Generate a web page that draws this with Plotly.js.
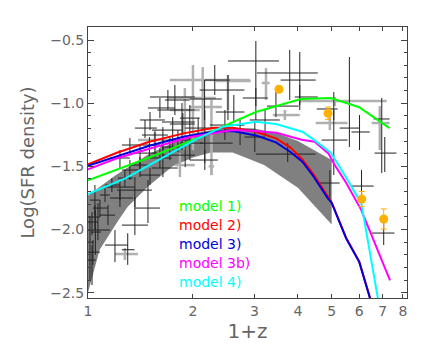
<!DOCTYPE html>
<html>
<head>
<meta charset="utf-8">
<script src="https://cdn.plot.ly/plotly-3.0.1.min.js"></script>
<style>html,body{margin:0;padding:0;background:#fff;}#chart{width:432px;height:354px;}</style>
</head>
<body>
<div id="chart"></div>
<script>
// ---- Gray band (uncertainty region) ----
const bandLowX  = [1.0, 1.08, 1.22, 1.3, 1.5, 1.75, 2.0, 2.25, 2.6, 3.2, 4.0, 5.0];
const bandLowY  = [-2.50, -2.16, -1.93, -1.82, -1.65, -1.50, -1.43, -1.39, -1.39, -1.49, -1.67, -1.96];
const bandHighX = [1.0, 1.2, 1.5, 2.0, 2.5, 3.0, 3.5, 4.0, 4.5, 5.0];
const bandHighY = [-1.73, -1.57, -1.40, -1.24, -1.19, -1.20, -1.24, -1.30, -1.38, -1.45];

// ---- Model curves ----
const m1X = [1.0, 1.5, 2.0, 2.33, 3.03, 4.08, 4.97, 5.98, 7.33];
const m1Y = [-1.61, -1.43, -1.29, -1.21, -1.07, -0.967, -0.959, -1.03, -1.197];
const m2X = [1.0, 1.21, 1.5, 1.88, 2.3, 2.6, 3.03, 3.46, 3.8, 4.12, 4.44, 4.87, 5.0, 5.5, 6.0, 6.5];
const m2Y = [-1.483, -1.392, -1.305, -1.239, -1.194, -1.195, -1.226, -1.278, -1.35, -1.445, -1.565, -1.745, -1.785, -2.065, -2.255, -2.58];
const m3X = [1.0, 1.21, 1.5, 1.88, 2.3, 2.6, 3.03, 3.46, 3.8, 4.12, 4.44, 4.87, 5.0, 5.5, 6.0, 6.5];
const m3Y = [-1.495, -1.418, -1.337, -1.265, -1.226, -1.22, -1.255, -1.31, -1.384, -1.463, -1.582, -1.751, -1.79, -2.07, -2.258, -2.58];
const m3bX = [1.0, 1.2, 1.5, 1.95, 2.6, 3.0, 3.47, 4.1, 4.47, 4.9, 5.1, 5.5, 6.08, 6.5, 7.35];
const m3bY = [-1.524, -1.44, -1.36, -1.27, -1.213, -1.22, -1.234, -1.29, -1.305, -1.40, -1.49, -1.63, -1.846, -2.04, -2.403];
const m4X = [1.0, 1.28, 1.6, 2.03, 2.44, 2.85, 3.03, 3.46, 4.12, 4.5, 4.97, 5.49, 5.95, 6.08, 6.8];
const m4Y = [-1.72, -1.595, -1.447, -1.29, -1.186, -1.155, -1.147, -1.165, -1.226, -1.30, -1.392, -1.585, -1.74, -1.793, -2.56];

// ---- Compilation data (black crosses): center, x-range, y-range ----
const blkX    = [3.03, 3.79, 4.05, 4.05, 3.03, 2.62, 3.46, 5.07, 5.62, 6.01, 6.96, 7.10, 5.07, 4.94, 6.09, 7.05, 3.74, 3.01, 2.52, 2.31, 2.16, 1.86, 1.75, 1.695, 1.64, 1.556, 1.50, 1.41, 1.90, 1.64, 1.363, 1.235, 1.486, 1.235, 1.363, 1.195, 1.30, 1.068, 1.047, 1.033, 1.119, 1.171, 1.276, 1.082, 1.141, 1.027, 1.319, 1.409, 1.506, 1.608, 1.717, 1.811, 1.959, 2.163, 2.163, 2.47, 2.73, 3.22, 1.87, 1.013, 1.05, 1.506, 1.608, 1.775, 1.959, 2.07, 1.457, 1.319, 1.235, 1.047, 1.027];
const blkY    = [-0.666, -0.761, -0.817, -0.951, -0.959, -1.070, -1.023, -1.046, -1.197, -1.228, -1.125, -1.395, -1.292, -1.632, -1.656, -2.028, -1.403, -1.268, -0.896, -0.817, -0.967, -1.054, -1.149, -0.951, -1.213, -1.252, -1.331, -1.395, -1.411, -1.513, -1.688, -1.664, -1.830, -1.751, -1.965, -2.123, -2.16, -2.004, -1.901, -2.179, -1.727, -1.648, -1.593, -1.830, -1.886, -1.941, -1.529, -1.490, -1.569, -1.434, -1.347, -1.292, -1.316, -1.316, -1.450, -1.173, -1.213, -1.133, -1.165, -2.10, -2.02, -1.133, -1.038, -0.975, -1.118, -1.197, -1.197, -1.331, -1.434, -1.767, -2.242];
const blkXlo  = [2.52, 3.05, 3.57, 3.92, 2.78, 2.325, 3.26, 4.53, 5.27, 5.70, 6.60, 6.64, 4.68, 4.56, 5.66, 6.51, 3.03, 2.81, 2.09, 2.16, 1.96, 1.58, 1.63, 1.506, 1.525, 1.428, 1.41, 1.346, 1.63, 1.525, 1.211, 1.119, 1.363, 1.156, 1.251, 1.119, 1.25, 1.0, 1.0, 1.0, 1.082, 1.119, 1.219, 1.033, 1.082, 1.0, 1.251, 1.319, 1.409, 1.506, 1.608, 1.695, 1.835, 2.092, 1.959, 2.237, 2.47, 2.91, 1.717, 1.0, 1.02, 1.409, 1.486, 1.662, 1.835, 1.896, 1.363, 1.251, 1.156, 1.013, 1.0];
const blkXhi  = [3.53, 4.56, 4.50, 4.56, 3.28, 2.81, 4.02, 5.20, 6.01, 6.43, 7.33, 7.67, 5.55, 5.27, 6.60, 7.57, 4.50, 3.22, 2.81, 2.55, 2.42, 2.025, 2.025, 2.025, 1.859, 1.695, 1.61, 1.576, 2.025, 1.81, 1.525, 1.363, 1.608, 1.346, 1.486, 1.302, 1.36, 1.156, 1.082, 1.082, 1.156, 1.235, 1.346, 1.141, 1.195, 1.068, 1.409, 1.506, 1.608, 1.740, 1.835, 1.959, 2.133, 2.60, 2.357, 2.81, 3.01, 3.55, 2.025, 1.04, 1.09, 1.662, 1.775, 1.959, 2.092, 2.311, 1.576, 1.409, 1.319, 1.082, 1.054];
const blkYlo  = [-1.133, -0.975, -1.015, -1.054, -1.023, -1.149, -1.110, -1.133, -1.347, -1.371, -1.553, -1.545, -1.569, -1.767, -1.743, -2.123, -1.466, -1.387, -1.133, -0.935, -1.133, -1.371, -1.371, -1.054, -1.371, -1.426, -1.426, -1.585, -1.506, -1.585, -1.822, -1.767, -1.949, -1.822, -2.044, -2.258, -2.28, -2.084, -2.004, -2.281, -1.783, -1.703, -1.664, -1.901, -1.965, -2.044, -1.608, -1.545, -1.648, -1.513, -1.450, -1.387, -1.450, -1.474, -1.529, -1.292, -1.331, -1.252, -1.252, -2.40, -2.20, -1.213, -1.118, -1.094, -1.213, -1.292, -1.276, -1.411, -1.513, -1.886, -2.44];
const blkYhi  = [-0.508, -0.579, -0.595, -0.856, -0.880, -0.935, -0.912, -0.912, -0.635, -1.094, -0.959, -1.268, -1.054, -1.529, -1.529, -1.925, -1.316, -1.157, -0.777, -0.698, -0.817, -0.999, -1.110, -0.896, -1.189, -1.228, -1.268, -1.331, -1.292, -1.292, -1.585, -1.608, -1.608, -1.688, -1.743, -2.004, -2.03, -1.791, -1.806, -2.084, -1.672, -1.593, -1.529, -1.767, -1.806, -1.862, -1.450, -1.426, -1.513, -1.355, -1.268, -1.213, -1.213, -1.054, -1.371, -1.054, -1.133, -1.054, -1.078, -1.90, -1.85, -1.070, -0.959, -0.856, -1.015, -1.118, -1.133, -1.276, -1.371, -1.648, -2.123];

// ---- Compilation data (gray crosses) ----
const gryX   = [2.52, 3.24, 5.1, 2.0, 1.896, 2.26, 1.556, 6.87, 4.94, 1.276, 1.835, 2.26, 3.67, 2.133];
const gryY   = [-0.825, -0.840, -0.983, -0.817, -1.054, -1.030, -1.292, -1.157, -1.157, -2.194, -1.490, -1.50, -1.094, -0.959];
const gryXlo = [2.325, 3.15, 4.05, 1.717, 1.717, 1.959, 1.391, 6.51, 4.50, 1.195, 1.775, 2.22, 3.39, 1.684];
const gryXhi = [2.93, 3.32, 7.19, 2.91, 2.092, 2.421, 1.740, 7.33, 5.55, 1.391, 2.025, 2.30, 4.05, 2.325];
const gryYlo = [-1.054, -0.975, -1.023, -1.371, -1.371, -1.569, -1.371, -1.371, -1.213, -2.242, -1.585, -1.569, -1.133, -1.228];
const gryYhi = [-0.777, -0.722, -0.951, -0.698, -0.880, -0.975, -1.213, -1.023, -1.110, -2.147, -1.395, -1.45, -1.054, -0.714];

// ---- New high-z points (orange) ----
const orgX   = [3.53, 4.88, 6.10, 7.05];
const orgY   = [-0.890, -1.080, -1.759, -1.917];
const orgErr = [0.02, 0.05, 0.06, 0.08];

// ---- Legend labels ----
const modelNames  = ['model 1)', 'model 2)', 'model 3)', 'model 3b)', 'model 4)'];
const modelColors = ['#00ff00', '#ff0000', '#0000dd', '#ff00ff', '#00ffff'];

function diff(a, b) { return a.map((v, i) => v - b[i]); }

function crossTrace(cx, cy, xlo, xhi, ylo, yhi, color, thick) {
  return {
    type: 'scatter', mode: 'markers', x: cx, y: cy,
    marker: {size: 1, color: 'rgba(0,0,0,0)'},
    error_x: {type: 'data', symmetric: false, array: diff(xhi, cx), arrayminus: diff(cx, xlo), color: color, thickness: thick, width: 0},
    error_y: {type: 'data', symmetric: false, array: diff(yhi, cy), arrayminus: diff(cy, ylo), color: color, thickness: thick, width: 0},
    hoverinfo: 'skip'
  };
}

const traces = [];
traces.push({
  type: 'scatter', mode: 'lines',
  x: bandLowX.concat(bandHighX.slice().reverse()),
  y: bandLowY.concat(bandHighY.slice().reverse()),
  fill: 'toself', fillcolor: '#808080', line: {width: 0, color: '#808080'}, hoverinfo: 'skip'
});
traces.push(crossTrace(gryX, gryY, gryXlo, gryXhi, gryYlo, gryYhi, '#b0b0b0', 2.5));
traces.push(crossTrace(blkX, blkY, blkXlo, blkXhi, blkYlo, blkYhi, '#222222', 1));

const models = [[m1X, m1Y], [m2X, m2Y], [m3X, m3Y], [m3bX, m3bY], [m4X, m4Y]];
models.forEach((m, i) => {
  traces.push({type: 'scatter', mode: 'lines', x: m[0], y: m[1], line: {color: modelColors[i], width: 2}, hoverinfo: 'skip'});
});

traces.push({
  type: 'scatter', mode: 'markers', x: orgX, y: orgY,
  marker: {size: 9, color: '#ffb000'},
  error_y: {type: 'data', array: orgErr, color: '#ffb000', thickness: 1, width: 3}
});

const annotations = modelNames.map((t, i) => ({
  xref: 'paper', yref: 'y', x: 0.278, y: -1.814 - 0.1505 * i,
  xanchor: 'left', yanchor: 'middle', text: t, showarrow: false,
  font: {family: 'DejaVu Sans', size: 14, color: modelColors[i]}
}));

const axisFont = {family: 'DejaVu Sans', size: 14, color: '#666'};
const layout = {
  width: 432, height: 354,
  margin: {l: 88, r: 25, t: 27, b: 56},
  paper_bgcolor: '#fff', plot_bgcolor: '#fff',
  showlegend: false,
  xaxis: {
    type: 'log', range: [0, 0.915],
    tickvals: [1, 2, 3, 4, 5, 6, 7, 8], ticktext: ['1', '2', '3', '4', '5', '6', '7', '8'],
    ticks: 'inside', ticklen: 4, tickcolor: '#444',
    showline: true, linecolor: '#444', linewidth: 1, mirror: 'allticks',
    showgrid: false, zeroline: false, tickfont: axisFont,
    title: {text: '1+z', font: {family: 'DejaVu Sans', size: 20, color: '#666'}, standoff: 6}
  },
  yaxis: {
    range: [-2.542, -0.397], tick0: -0.5, dtick: 0.5, tickformat: '.1f',
    ticks: 'inside', ticklen: 6, tickcolor: '#444',
    minor: {dtick: 0.1, tick0: 0, ticks: 'inside', ticklen: 3, tickcolor: '#444', showgrid: false},
    showline: true, linecolor: '#444', linewidth: 1, mirror: 'allticks',
    showgrid: false, zeroline: false, tickfont: axisFont,
    title: {text: 'Log(SFR density)', font: {family: 'DejaVu Sans', size: 18, color: '#666'}, standoff: 10}
  },
  annotations: annotations
};

Plotly.newPlot('chart', traces, layout, {staticPlot: true, displayModeBar: false});
</script>
</body>
</html>
